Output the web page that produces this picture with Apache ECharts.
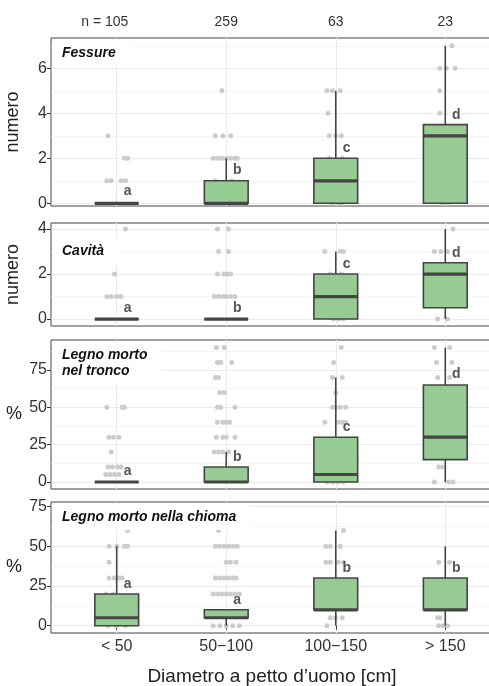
<!DOCTYPE html>
<html>
<head>
<meta charset="utf-8">
<script src="https://cdn.jsdelivr.net/npm/echarts@6/dist/echarts.min.js"></script>
<style>
  html, body { margin: 0; padding: 0; background: #fff; }
  #chart { width: 489px; height: 686px; }
</style>
</head>
<body>
<div id="chart"></div>
<script>
// categorie (diametro) e numerosità
const categories = ['< 50', '50\u2212100', '100\u2212150', '> 150'];
const nLabels = ['n = 105', '259', '63', '23'];

// tick labels per pannello
const ticksFessure = [0, 2, 4, 6];
const ticksCavita = [0, 2, 4];
const ticksPercent = [0, 25, 50, 75];

// boxplot: [min, q1, mediana, q3, max] per categoria
const boxFessure = [[0, 0, 0, 0, 0], [0, 0, 0, 1, 2], [0, 0, 1, 2, 5], [0, 0, 3, 3.5, 7]];
const boxCavita = [[0, 0, 0, 0, 0], [0, 0, 0, 0, 0], [0, 0, 1, 2, 3], [0, 0.5, 2, 2.5, 4]];
const boxTronco = [[0, 0, 0, 0, 0], [0, 0, 0, 10, 20], [0, 0, 5, 30, 70], [0, 15, 30, 65, 90]];
const boxChioma = [[0, 0, 5, 20, 50], [0, 5, 5, 10, 10], [0, 10, 10, 30, 60], [0, 10, 10, 30, 50]];

// lettere (gruppi) e loro altezza
const lettersFessure = ['a', 'b', 'c', 'd'];
const lettersFessureY = [0.52, 1.48, 2.46, 3.92];
const lettersCavita = ['a', 'b', 'c', 'd'];
const lettersCavitaY = [0.5, 0.5, 2.43, 2.95];
const lettersTronco = ['a', 'b', 'c', 'd'];
const lettersTroncoY = [7.4, 16.5, 36.6, 72.1];
const lettersChioma = ['a', 'a', 'b', 'b'];
const lettersChiomaY = [26, 16, 36.5, 36.5];

// punti osservati: [categoria, valore, spostamento orizzontale]
const ptsFessure = [
  [1, 3, -0.08], [1, 2, 0.07], [1, 2, 0.1], [1, 1, -0.09], [1, 1, -0.05], [1, 1, 0.04], [1, 1, 0.08],
  [2, 5, -0.04], [2, 3, -0.1], [2, 3, -0.03], [2, 3, 0.04], [2, 2, -0.12], [2, 2, -0.08], [2, 2, -0.04],
  [2, 2, 0], [2, 2, 0.04], [2, 2, 0.08], [2, 2, 0.1], [2, 1, -0.1], [2, 1, 0.05],
  [3, 5, -0.08], [3, 5, -0.03], [3, 5, 0.04], [3, 4, -0.07], [3, 3, -0.06], [3, 3, 0], [3, 3, 0.05],
  [3, 2, -0.06], [3, 2, 0.06], [3, 0, -0.03], [3, 0, 0.02], [3, 0, 0.06],
  [4, 7, 0.06], [4, 6, -0.05], [4, 6, 0.01], [4, 6, 0.09], [4, 5, -0.05], [4, 4, -0.05], [4, 0, -0.03], [4, 0, 0.02]
];
const ptsCavita = [
  [1, 4, 0.08], [1, 2, -0.02], [1, 1, -0.09], [1, 1, -0.05], [1, 1, 0], [1, 1, 0.04],
  [2, 4, -0.08], [2, 4, 0.02], [2, 3, -0.07], [2, 3, 0.02], [2, 2, -0.08], [2, 2, -0.02], [2, 2, 0.01], [2, 2, 0.04],
  [2, 1, -0.11], [2, 1, -0.07], [2, 1, -0.03], [2, 1, 0], [2, 1, 0.04], [2, 1, 0.08],
  [3, 3, -0.1], [3, 3, 0.04], [3, 3, 0.07], [3, 2, -0.05], [3, 2, 0.05], [3, 0, -0.02], [3, 0, 0.03], [3, 0, 0.07],
  [4, 4, 0.07], [4, 3, -0.1], [4, 3, -0.04], [4, 3, 0.02], [4, 0, -0.07], [4, 0, 0.02]
];
const ptsTronco = [
  [1, 50, -0.09], [1, 50, 0.05], [1, 50, 0.07], [1, 30, -0.07], [1, 30, -0.03], [1, 30, 0.02], [1, 20, -0.05],
  [1, 10, -0.08], [1, 10, -0.04], [1, 10, 0.01], [1, 10, 0.04], [1, 5, -0.1], [1, 5, -0.06], [1, 5, -0.02], [1, 5, 0.02],
  [2, 90, -0.09], [2, 90, -0.02], [2, 80, -0.08], [2, 80, -0.05], [2, 80, 0.05], [2, 70, -0.1], [2, 70, -0.07],
  [2, 60, -0.06], [2, 60, -0.02], [2, 50, -0.08], [2, 50, -0.05], [2, 50, 0.08], [2, 40, -0.08], [2, 40, -0.03],
  [2, 40, 0], [2, 40, 0.03], [2, 30, -0.09], [2, 30, -0.03], [2, 30, 0], [2, 30, 0.08],
  [2, 20, -0.11], [2, 20, -0.07], [2, 20, -0.03], [2, 20, 0.02],
  [3, 90, 0.05], [3, 80, -0.02], [3, 70, -0.03], [3, 70, 0.06], [3, 60, 0], [3, 50, -0.03], [3, 50, 0],
  [3, 50, 0.04], [3, 50, 0.09], [3, 40, -0.1], [3, 40, 0.02], [3, 40, 0.06], [3, 40, 0.09],
  [3, 0, -0.08], [3, 0, -0.03], [3, 0, 0.02], [3, 0, 0.07],
  [4, 90, -0.1], [4, 90, 0.04], [4, 80, -0.08], [4, 80, 0.06], [4, 70, -0.07], [4, 70, 0.04],
  [4, 10, -0.06], [4, 10, -0.03], [4, 0, -0.1], [4, 0, 0.03], [4, 0, 0.07]
];
const ptsChioma = [
  [1, 60, 0.1], [1, 50, -0.07], [1, 50, 0], [1, 50, 0.07], [1, 50, 0.1], [1, 40, -0.07],
  [1, 30, -0.07], [1, 30, -0.02], [1, 30, 0.02], [1, 30, 0.05], [1, 20, -0.1], [1, 20, -0.03],
  [1, 0, -0.08], [1, 0, 0], [1, 0, 0.08],
  [2, 60, -0.07], [2, 50, -0.1], [2, 50, -0.06], [2, 50, -0.02], [2, 50, 0.02], [2, 50, 0.06], [2, 50, 0.1],
  [2, 40, 0], [2, 40, 0.04], [2, 40, 0.09], [2, 30, -0.1], [2, 30, -0.06], [2, 30, -0.02], [2, 30, 0.02],
  [2, 30, 0.06], [2, 30, 0.09], [2, 20, -0.12], [2, 20, -0.08], [2, 20, -0.04], [2, 20, 0], [2, 20, 0.04],
  [2, 20, 0.08], [2, 20, 0.12], [2, 0, -0.12], [2, 0, -0.06], [2, 0, 0], [2, 0, 0.06], [2, 0, 0.12],
  [3, 60, 0.07], [3, 50, -0.09], [3, 50, -0.05], [3, 50, 0.04], [3, 40, -0.09], [3, 40, -0.05], [3, 40, 0.02],
  [3, 40, 0.07], [3, 5, -0.05], [3, 5, 0], [3, 5, 0.06], [3, 0, -0.08],
  [4, 40, -0.06], [4, 40, 0.04], [4, 5, -0.07], [4, 5, -0.05], [4, 0, -0.06], [4, 0, -0.02], [4, 0, 0.02]
];

const FONT = 'Liberation Sans, Arial, sans-serif';
const BOX_W = 0.4;

// layout dei pannelli
const panels = [
  { title: 'Fessure', titleTop: 40, top: 38, height: 168, min: -0.12, max: 7.35,
    ticks: ticksFessure, minor: [1, 3, 5, 7], name: 'numero', rot: 90,
    box: boxFessure, pts: ptsFessure, letters: lettersFessure, lettersY: lettersFessureY },
  { title: 'Cavità', titleTop: 238, top: 223, height: 103, min: -0.31, max: 4.27,
    ticks: ticksCavita, minor: [1, 3], name: 'numero', rot: 90,
    box: boxCavita, pts: ptsCavita, letters: lettersCavita, lettersY: lettersCavitaY },
  { title: 'Legno morto\nnel tronco', titleTop: 342, top: 340, height: 149, min: -4.7, max: 95.1,
    ticks: ticksPercent, minor: [12.5, 37.5, 62.5, 87.5], name: '%', rot: 0,
    box: boxTronco, pts: ptsTronco, letters: lettersTronco, lettersY: lettersTroncoY },
  { title: 'Legno morto nella chioma', titleTop: 504, top: 502, height: 131, min: -4.6, max: 77.9,
    ticks: ticksPercent, minor: [12.5, 37.5, 62.5], name: '%', rot: 0,
    box: boxChioma, pts: ptsChioma, letters: lettersChioma, lettersY: lettersChiomaY }
];

function renderBox(params, api) {
  const x = api.value(0);
  const pLo = api.coord([x, api.value(1)]);
  const pQ1 = api.coord([x, api.value(2)]);
  const pMed = api.coord([x, api.value(3)]);
  const pQ3 = api.coord([x, api.value(4)]);
  const pHi = api.coord([x, api.value(5)]);
  const half = api.size([BOX_W, 0])[0] / 2;
  const stroke = '#454545';
  return {
    type: 'group',
    children: [
      { type: 'line', shape: { x1: pLo[0], y1: pLo[1], x2: pQ1[0], y2: pQ1[1] }, style: { stroke: stroke, lineWidth: 1.6 } },
      { type: 'line', shape: { x1: pQ3[0], y1: pQ3[1], x2: pHi[0], y2: pHi[1] }, style: { stroke: stroke, lineWidth: 1.6 } },
      { type: 'rect', shape: { x: pQ3[0] - half, y: pQ3[1], width: half * 2, height: pQ1[1] - pQ3[1] },
        style: { fill: '#97cb94', stroke: stroke, lineWidth: 1.6 } },
      { type: 'line', shape: { x1: pMed[0] - half, y1: pMed[1], x2: pMed[0] + half, y2: pMed[1] },
        style: { stroke: stroke, lineWidth: 3.2 } }
    ]
  };
}

// lettere come testo vero
function renderLetter(letters) {
  return function (params, api) {
    const pt = api.coord([api.value(0), api.value(1)]);
    return {
      type: 'text',
      style: {
        x: pt[0], y: pt[1], text: letters[params.dataIndex],
        align: 'center', verticalAlign: 'middle',
        font: 'bold 14px ' + FONT, fill: '#555'
      }
    };
  };
}

const grid = [], xAxis = [], yAxis = [], series = [], title = [];
const catValues = [1, 2, 3, 4];

panels.forEach(function (p, i) {
  const last = i === panels.length - 1;
  grid.push({
    left: 51, top: p.top, width: 460, height: p.height,
    show: true, borderColor: '#444', borderWidth: 1, backgroundColor: '#fff',
    outerBoundsMode: 'none'
  });
  xAxis.push({
    type: 'value', gridIndex: i, min: 0.4, max: 4.6,
    axisLine: { show: false },
    axisTick: { show: last, customValues: catValues, length: 4, lineStyle: { color: '#333' } },
    axisLabel: {
      show: last, customValues: catValues, margin: 6,
      formatter: function (v) { return categories[Math.round(v) - 1]; },
      fontFamily: FONT, fontSize: 16, color: '#333'
    },
    splitLine: { show: true, lineStyle: { color: '#ebebeb', width: 1.2 } },
    name: last ? 'Diametro a petto d\u2019uomo [cm]' : '',
    nameLocation: 'middle', nameGap: 34,
    nameTextStyle: { fontFamily: FONT, fontSize: 19, color: '#222', padding: [0, 18, 0, 0] }
  });
  // asse Y principale
  yAxis.push({
    type: 'value', gridIndex: i, min: p.min, max: p.max,
    axisLine: { show: false },
    axisTick: { show: true, customValues: p.ticks, length: 4, lineStyle: { color: '#333' } },
    axisLabel: { customValues: p.ticks, margin: 4, fontFamily: FONT, fontSize: 16, color: '#333' },
    splitLine: { show: true, lineStyle: { color: '#ebebeb', width: 1.2 } },
    name: p.name, nameLocation: 'middle', nameGap: 29, nameRotate: p.rot, nameMoveOverlap: false,
    nameTextStyle: { fontFamily: FONT, fontSize: 18, color: '#222' }
  });
  // griglia secondaria
  yAxis.push({
    type: 'value', gridIndex: i, min: p.min, max: p.max, position: 'left',
    axisLine: { show: false },
    axisTick: { show: false, customValues: p.minor },
    axisLabel: { show: false },
    splitLine: { show: true, lineStyle: { color: '#f0f0f0', width: 0.7 } }
  });
  const yMain = i * 2;
  const xIdx = i;
  series.push({
    type: 'scatter', xAxisIndex: xIdx, yAxisIndex: yMain, silent: true, z: 2,
    symbolSize: 5, itemStyle: { color: '#cccccc', opacity: 1 },
    data: p.pts.map(function (d) { return [d[0] + d[2], d[1]]; })
  });
  series.push({
    type: 'custom', xAxisIndex: xIdx, yAxisIndex: yMain, silent: true, z: 3,
    renderItem: renderBox,
    encode: { x: 0, y: [1, 2, 3, 4, 5] },
    data: p.box.map(function (b, k) { return [k + 1].concat(b); })
  });
  series.push({
    type: 'custom', xAxisIndex: xIdx, yAxisIndex: yMain, silent: true, z: 4,
    renderItem: renderLetter(p.letters),
    encode: { x: 0, y: 1 },
    data: p.lettersY.map(function (y, k) { return [k + 1.1, y]; })
  });
  title.push({
    text: p.title, left: 52, top: p.titleTop,
    backgroundColor: '#fff', padding: [5, 14, 5, 10],
    textStyle: { fontFamily: FONT, fontSize: 14, fontWeight: 'bold', fontStyle: 'italic', color: '#111', lineHeight: 16 }
  });
});

// asse superiore con numerosità (il numero resta centrato sulla categoria)
xAxis.push({
  type: 'value', gridIndex: 0, position: 'top', min: 0.4, max: 4.6,
  axisLine: { show: false },
  axisTick: { show: true, customValues: catValues, length: 4, lineStyle: { color: '#d9d9d9' } },
  axisLabel: {
    customValues: catValues, margin: 9,
    formatter: function (v) {
      const s = nLabels[Math.round(v) - 1];
      if (s.indexOf('n = ') === 0) {
        return '{t|n = ' + s.slice(4) + '}{h|n = }';
      }
      return '{t|' + s + '}';
    },
    rich: {
      t: { fontFamily: FONT, fontSize: 14, color: '#333' },
      h: { fontFamily: FONT, fontSize: 14, color: 'rgba(0,0,0,0)' }
    },
    fontFamily: FONT, fontSize: 14, color: '#333'
  },
  splitLine: { show: false }
});

const chart = echarts.init(document.getElementById('chart'), null, { renderer: 'canvas' });
chart.setOption({
  animation: false,
  backgroundColor: '#fff',
  title: title,
  grid: grid,
  xAxis: xAxis,
  yAxis: yAxis,
  series: series
});
</script>
</body>
</html>
